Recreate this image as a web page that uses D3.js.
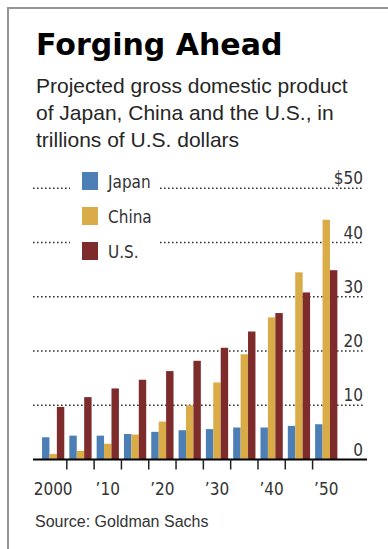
<!DOCTYPE html>
<html>
<head>
<meta charset="utf-8">
<script src="https://cdn.jsdelivr.net/npm/d3@7"></script>
<style>
  body { margin: 0; background: #fff; }
  svg { display: block; }
  .cond { font-family: "DejaVu Sans Condensed", "DejaVu Sans", sans-serif; font-stretch: condensed; }
</style>
</head>
<body>
<div id="chart"></div>
<script>
const years = [2000, 2005, 2010, 2015, 2020, 2025, 2030, 2035, 2040, 2045, 2050];
const series = ["Japan", "China", "U.S."];
const japan = [4.1, 4.4, 4.4, 4.7, 5.1, 5.4, 5.6, 5.9, 5.9, 6.2, 6.5];
const china = [1.0, 1.6, 2.9, 4.6, 7.0, 10.0, 14.2, 19.4, 26.2, 34.5, 44.2];
const us = [9.7, 11.5, 13.1, 14.7, 16.3, 18.2, 20.6, 23.6, 27.0, 30.8, 34.9];
const yTicks = [0, 10, 20, 30, 40, 50];
const xLabels = [[2000, "2000"], [2010, "\u201910"], [2020, "\u201920"], [2030, "\u201930"], [2040, "\u201940"], [2050, "\u201950"]];
const colors = ["#4c7fb6", "#d9ac47", "#7d2b2b"];

const width = 388, height = 549;
const values = [japan, china, us];
const rows = years.map((yr, i) => ({ year: yr, vals: series.map((s, j) => ({ key: s, value: values[j][i], c: j })) }));

const svg = d3.select("#chart").append("svg")
    .attr("width", width)
    .attr("height", height);

// frame: top and left rules only
svg.append("path")
    .attr("d", `M8,${height} V8 H${width}`)
    .attr("fill", "none")
    .attr("stroke", "#959595")
    .attr("stroke-width", 2);

svg.append("text")
    .attr("x", 36)
    .attr("y", 55)
    .attr("font-family", "DejaVu Sans, sans-serif")
    .attr("font-weight", "bold")
    .attr("font-size", 30)
    .attr("fill", "#000")
    .text("Forging Ahead");

const sub = ["Projected gross domestic product", "of Japan, China and the U.S., in", "trillions of U.S. dollars"];
svg.append("g")
    .selectAll("text")
    .data(sub)
    .join("text")
    .attr("x", 36)
    .attr("y", (d, i) => 93 + i * 27)
    .attr("font-family", "Liberation Sans, Arial, sans-serif")
    .attr("font-size", 21)
    .attr("fill", "#262626")
    .text(d => d);

const x0 = d3.scaleBand().domain(years).range([39.5, 339.9]);
const x1 = d3.scaleBand().domain(series).range([0, x0.bandwidth()]).paddingOuter(0.34);
const y = d3.scaleLinear().domain([0, 50]).range([459.5, 188.3]);

// dotted grid lines (broken by the legend at the top two)
const grid = svg.append("g")
    .attr("stroke", "#333")
    .attr("stroke-width", 1.6)
    .attr("stroke-dasharray", "1.6,2.4");
yTicks.filter(t => t > 0).forEach(t => {
    const segs = t >= 40 ? [[33, 70], [160, 364]] : [[33, 364]];
    segs.forEach(([a, b]) => grid.append("line")
        .attr("x1", a).attr("x2", b)
        .attr("y1", y(t)).attr("y2", y(t)));
});

// bars
svg.append("g")
    .selectAll("g")
    .data(rows)
    .join("g")
    .attr("transform", d => `translate(${x0(d.year)},0)`)
    .selectAll("rect")
    .data(d => d.vals)
    .join("rect")
    .attr("x", d => x1(d.key))
    .attr("width", x1.bandwidth())
    .attr("y", d => y(d.value))
    .attr("height", d => y(0) - y(d.value))
    .attr("fill", d => colors[d.c]);

// y labels at right
svg.append("g")
    .attr("class", "cond")
    .attr("font-size", 17)
    .attr("fill", "#333")
    .attr("text-anchor", "end")
    .selectAll("text")
    .data(yTicks)
    .join("text")
    .attr("x", 363)
    .attr("y", d => y(d) - 4)
    .text(d => d === 50 ? "$50" : d);

// baseline and ticks
svg.append("line")
    .attr("x1", 33).attr("x2", 367)
    .attr("y1", y(0)).attr("y2", y(0))
    .attr("stroke", "#000")
    .attr("stroke-width", 2);
svg.append("g")
    .attr("stroke", "#222")
    .attr("stroke-width", 1.5)
    .selectAll("line")
    .data(years.slice(1))
    .join("line")
    .attr("x1", d => x0(d)).attr("x2", d => x0(d))
    .attr("y1", y(0)).attr("y2", y(0) + 10);

svg.append("g")
    .attr("class", "cond")
    .attr("font-size", 17)
    .attr("fill", "#333")
    .attr("text-anchor", "middle")
    .selectAll("text")
    .data(xLabels)
    .join("text")
    .attr("x", d => x0(d[0]) + x0.bandwidth() / 2)
    .attr("y", 495)
    .text(d => d[1]);

// legend
const legend = svg.append("g")
    .attr("class", "cond")
    .selectAll("g")
    .data(series)
    .join("g")
    .attr("transform", (d, i) => `translate(82,${172 + i * 35})`);
legend.append("rect")
    .attr("width", 16)
    .attr("height", 18)
    .attr("fill", (d, i) => colors[i]);
legend.append("text")
    .attr("x", 26)
    .attr("y", 16)
    .attr("font-size", 17)
    .attr("fill", "#333")
    .text(d => d);

svg.append("text")
    .attr("x", 35)
    .attr("y", 527)
    .attr("font-family", "Liberation Sans, Arial, sans-serif")
    .attr("font-size", 16)
    .attr("fill", "#333")
    .text("Source: Goldman Sachs");
</script>
</body>
</html>
